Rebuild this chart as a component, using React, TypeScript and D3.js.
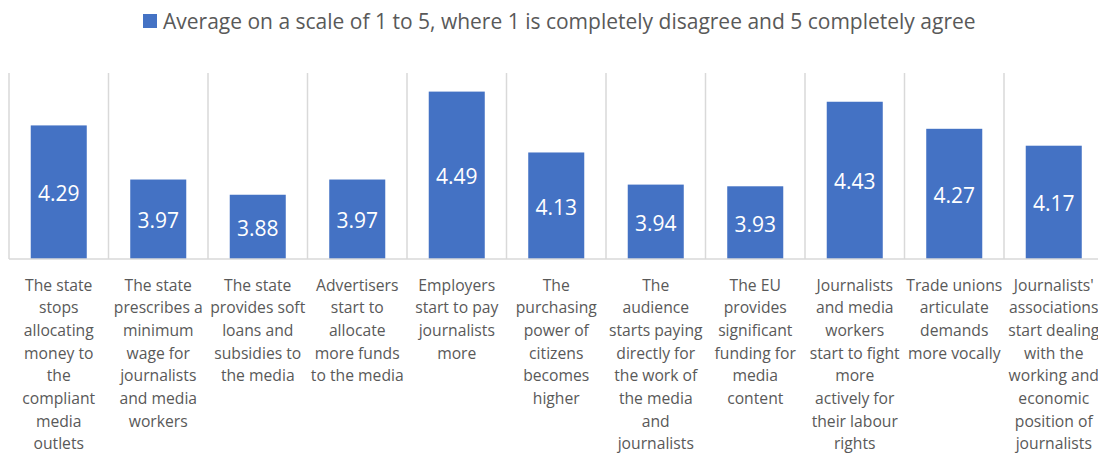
import React from "react";
import * as d3 from "d3";

const categories: string[] = [
  "c1", "c2", "c3", "c4", "c5", "c6", "c7", "c8", "c9", "c10", "c11",
];

const categoryLabels: string[][] = [
  ["The state", "stops", "allocating", "money to", "the", "compliant", "media", "outlets"],
  ["The state", "prescribes a", "minimum", "wage for", "journalists", "and media", "workers"],
  ["The state", "provides soft", "loans and", "subsidies to", "the media"],
  ["Advertisers", "start to", "allocate", "more funds", "to the media"],
  ["Employers", "start to pay", "journalists", "more"],
  ["The", "purchasing", "power of", "citizens", "becomes", "higher"],
  ["The", "audience", "starts paying", "directly for", "the work of", "the media", "and", "journalists"],
  ["The EU", "provides", "significant", "funding for", "media", "content"],
  ["Journalists", "and media", "workers", "start to fight", "more", "actively for", "their labour", "rights"],
  ["Trade unions", "articulate", "demands", "more vocally"],
  ["Journalists'", "associations", "start dealing", "with the", "working and", "economic", "position of", "journalists"],
];

const values: number[] = [4.29, 3.97, 3.88, 3.97, 4.49, 4.13, 3.94, 3.93, 4.43, 4.27, 4.17];

const seriesName =
  "Average on a scale of 1 to 5, where 1 is completely disagree and 5 completely agree";

const W = 1098;
const H = 453;
const FONT = "'Open Sans', sans-serif";
const BAR = "#4472C4";
const GRID = "#D9D9D9";
const TEXT = "#595959";

export default function App() {
  const gap = 0.437;
  const x = d3
    .scaleBand<string>()
    .domain(categories)
    .range([9, 1103.5])
    .paddingInner(gap)
    .paddingOuter(gap / 2);
  const y = d3.scaleLinear().domain([3.5, 4.6]).range([259, 73]);
  const step = x.step();
  const bw = x.bandwidth();
  const boundaries = categories.map((c) => (x(c) as number) - (step * gap) / 2);
  boundaries.push(1103.5);

  return (
    <svg
      width={W}
      height={H}
      style={{ position: "absolute", left: 0, top: 0, background: "#fff" }}
    >
      <rect x={0} y={0} width={W} height={H} fill="#fff" />
      {/* legend */}
      <rect x={143} y={14} width={14} height={14} fill={BAR} />
      <text x={163} y={28.5} fontFamily={FONT} fontSize={21} fill={TEXT}>
        {seriesName}
      </text>
      {/* vertical category gridlines */}
      {boundaries.map((bx, i) => (
        <line
          key={"g" + i}
          x1={bx}
          x2={bx}
          y1={y(4.6)}
          y2={y(3.5)}
          stroke={GRID}
          strokeWidth={1.5}
        />
      ))}
      {/* bars */}
      {categories.map((c, i) => (
        <rect
          key={"b" + i}
          x={x(c)}
          y={y(values[i])}
          width={bw}
          height={y(3.5) - y(values[i])}
          fill={BAR}
        />
      ))}
      {/* baseline */}
      <line x1={9} x2={1103.5} y1={y(3.5)} y2={y(3.5)} stroke={GRID} strokeWidth={1.5} />
      {/* value labels */}
      {categories.map((c, i) => (
        <text
          key={"v" + i}
          x={(x(c) as number) + bw / 2}
          y={(y(values[i]) + y(3.5)) / 2 + 9}
          textAnchor="middle"
          fontFamily={FONT}
          fontSize={21}
          fill="#fff"
        >
          {values[i].toFixed(2)}
        </text>
      ))}
      {/* category labels */}
      {categories.map((c, i) => (
        <text
          key={"l" + i}
          textAnchor="middle"
          fontFamily={FONT}
          fontSize={15.7}
          fill={TEXT}
        >
          {categoryLabels[i].map((ln, j) => (
            <tspan key={j} x={(x(c) as number) + bw / 2} y={290.5 + j * 22.7}>
              {ln}
            </tspan>
          ))}
        </text>
      ))}
    </svg>
  );
}
